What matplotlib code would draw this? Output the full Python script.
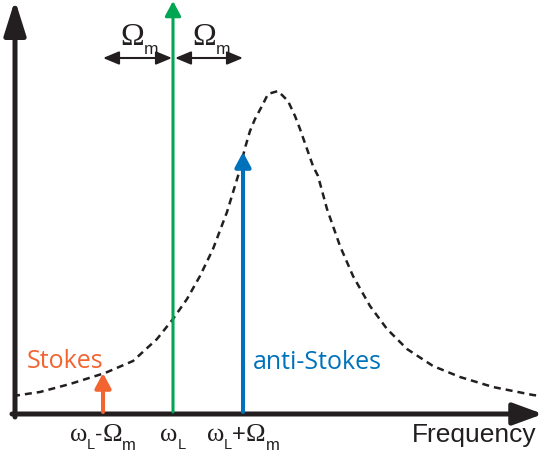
import matplotlib
matplotlib.use("Agg")
import matplotlib.pyplot as plt

# frequencies of the pump and the two sidebands
omegaL = 158
OmegaM = 70
lineFreqs = [omegaL - OmegaM, omegaL, omegaL + OmegaM]
lineHeights = [41, 413, 262]
lineColors = ['#f26531', '#00a651', '#0072bc']

# cavity response (dashed)
curveX = [-2, 25, 55, 90, 118, 142, 158, 172, 185, 198, 212, 223, 230, 235, 240,
          247, 253, 263, 273, 280, 285, 292, 298, 303, 312, 325, 338, 355, 372,
          392, 418, 445, 478, 518, 526]
curveY = [18, 22, 30, 41, 53, 75, 95, 115, 138, 165, 202, 238, 266, 283, 295,
          308, 320, 323, 313, 298, 285, 265, 248, 238, 205, 168, 138, 108, 85,
          65, 48, 37, 27, 19, 18]

BLACK = '#231f20'
SERIF = 'Liberation Serif'
SANS = 'Liberation Sans'

# label pieces: (text, family, size, drop below baseline in points)
omL = [('ω', SERIF, 19, 0), ('L', SANS, 10.5, 6)]
Om = [('Ω', SERIF, 19, 0), ('m', SANS, 12, 6.5)]
tickLabels = [omL + [('-', SANS, 16, 0)] + Om,
              omL,
              omL + [('+', SANS, 17, 0)] + Om]
topLabel = [('Ω', SERIF, 23, 0), ('m', SANS, 12.5, 6.5)]

fig = plt.figure(figsize=(5.41, 4.60), dpi=100)
ax = fig.add_axes([0, 0, 1, 1])
ax.set_xlim(-15, 526)
ax.set_ylim(-45, 415)
ax.axis('off')


def richLabel(x, y, parts):
    # lays the pieces side by side, centred on x, baseline at y
    texts = []
    for s, fam, size, drop in parts:
        t = ax.annotate(s, (x, y), xytext=(0, -drop), textcoords='offset points',
                        family=fam, fontsize=size, color=BLACK, ha='left',
                        va='baseline', annotation_clip=False)
        texts.append(t)
    renderer = fig.canvas.get_renderer()
    widths = [t.get_window_extent(renderer).width * 72.0 / fig.dpi for t in texts]
    start = -sum(widths) / 2
    for t, w, p in zip(texts, widths, parts):
        t.xyann = (start, -p[3])
        start += w


# axes arrows
ax.annotate('', xy=(0, 414), xytext=(0, -3), annotation_clip=False,
            arrowprops=dict(arrowstyle='-|>,head_length=1.05,head_width=0.33',
                            mutation_scale=20, lw=3.6, color=BLACK,
                            shrinkA=0, shrinkB=0))
ax.annotate('', xy=(528, 0), xytext=(-3, 0), annotation_clip=False,
            arrowprops=dict(arrowstyle='-|>,head_length=0.9,head_width=0.33',
                            mutation_scale=20, lw=3.6, color=BLACK,
                            shrinkA=0, shrinkB=0))

ax.plot(curveX, curveY, color=BLACK, lw=1.8, dashes=(2.8, 2.0), zorder=2)

# pump and sideband arrows
widths = [2.9, 2.2, 2.9]
for f, h, c, w in zip(lineFreqs, lineHeights, lineColors, widths):
    ax.annotate('', xy=(f, h), xytext=(f, 2), annotation_clip=False,
                arrowprops=dict(arrowstyle='-|>,head_length=0.75,head_width=0.4',
                                mutation_scale=12, lw=w, color=c,
                                shrinkA=0, shrinkB=0), zorder=3)

for f, parts in zip(lineFreqs, tickLabels):
    richLabel(f, -26, parts)

# spacing arrows above the pump
arrY = 356
for a, b in [(lineFreqs[0], lineFreqs[1] - 1), (lineFreqs[1] + 2, lineFreqs[2])]:
    ax.annotate('', xy=(b, arrY), xytext=(a, arrY),
                arrowprops=dict(arrowstyle='<|-|>,head_length=0.6,head_width=0.25',
                                mutation_scale=16, lw=1.5, color=BLACK,
                                shrinkA=0, shrinkB=0))
    richLabel((a + b) / 2 + 2, 370, topLabel)

ax.text(12, 47, 'Stokes', color=lineColors[0], fontsize=18, family='Open Sans',
        ha='left', va='baseline')
ax.text(238, 46, 'anti-Stokes', color=lineColors[2], fontsize=18, family='Open Sans',
        ha='left', va='baseline')
ax.text(522, -27, 'Frequency', color=BLACK, fontsize=19, family=SANS,
        ha='right', va='baseline')

fig.savefig('out.png', dpi=100)
